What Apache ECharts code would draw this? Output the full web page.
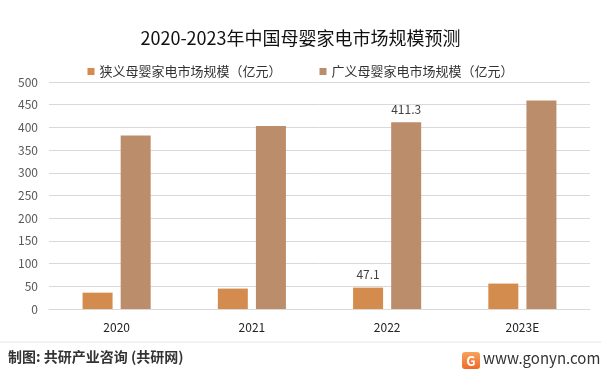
<!DOCTYPE html>
<html>
<head>
<meta charset="utf-8">
<script src="https://cdn.jsdelivr.net/npm/echarts@6/dist/echarts.min.js"></script>
<style>
html,body{margin:0;padding:0;background:#fff;}
#chart{width:601px;height:373px;}
</style>
</head>
<body>
<div id="chart"></div>
<script>
const categories = ['2020', '2021', '2022', '2023E'];
const narrowName = '狭义母婴家电市场规模（亿元）';
const broadName = '广义母婴家电市场规模（亿元）';
const narrowValues = [36, 45, 47.1, 56];
const broadValues = [382, 403, 411.3, 459];
const labeledIndex = 2;
const yTicks = { min: 0, max: 500, interval: 50 };

const FONT = '"Microsoft YaHei","Noto Sans CJK SC","Noto Sans",sans-serif';
const chart = echarts.init(document.getElementById('chart'), null, { renderer: 'canvas' });

function labelFor(idx) {
  return {
    show: true,
    position: 'top',
    distance: 7,
    color: '#404040',
    fontSize: 12,
    fontFamily: FONT,
    formatter: p => (p.dataIndex === idx ? String(p.value) : '')
  };
}

const option = {
  backgroundColor: '#ffffff',
  animation: false,
  title: {
    text: '2020-2023年中国母婴家电市场规模预测',
    left: 'center',
    top: 24,
    textStyle: { fontSize: 18, fontWeight: 'normal', color: '#111', fontFamily: FONT }
  },
  legend: {
    top: 60,
    left: 'center',
    itemWidth: 7,
    itemHeight: 7,
    itemGap: 38,
    icon: 'rect',
    textStyle: { fontSize: 13, color: '#333', fontFamily: FONT },
    data: [narrowName, broadName]
  },
  grid: { left: 49, right: 11, top: 82, bottom: 64, containLabel: false },
  xAxis: {
    type: 'category',
    data: categories,
    axisLine: { show: true, lineStyle: { color: '#d9d9d9' } },
    axisTick: { show: false },
    axisLabel: { color: '#222', fontSize: 12, margin: 12, fontFamily: FONT }
  },
  yAxis: {
    type: 'value',
    min: yTicks.min,
    max: yTicks.max,
    interval: yTicks.interval,
    axisLine: { show: false },
    axisTick: { show: false },
    splitLine: { lineStyle: { color: '#d9d9d9', width: 1 } },
    axisLabel: { color: '#595959', fontSize: 12, margin: 11, fontFamily: FONT }
  },
  series: [
    {
      name: narrowName,
      type: 'bar',
      data: narrowValues,
      barWidth: 30,
      barGap: '27%',
      itemStyle: { color: '#D48C4E' },
      label: labelFor(labeledIndex)
    },
    {
      name: broadName,
      type: 'bar',
      data: broadValues,
      barWidth: 30,
      itemStyle: { color: '#BB8D6B' },
      label: labelFor(labeledIndex)
    }
  ],
  graphic: [
    { type: 'line', shape: { x1: 0, y1: 342, x2: 601, y2: 342 }, style: { stroke: '#e6e6e6', lineWidth: 1 } },
    { type: 'text', left: 8, top: 350, style: { text: '制图: 共研产业咨询 (共研网)', fontSize: 14, fontWeight: 'bold', fill: '#333', fontFamily: FONT } },
    { type: 'rect', shape: { x: 462, y: 352, width: 18, height: 17, r: 3 }, style: { fill: new echarts.graphic.LinearGradient(0, 0, 0, 1, [{ offset: 0, color: '#F7A35C' }, { offset: 1, color: '#EE6A2C' }]) } },
    { type: 'text', x: 471, y: 361, style: { text: 'G', fontSize: 13, fontWeight: 'bold', fill: '#fff', align: 'center', verticalAlign: 'middle', fontFamily: FONT } },
    { type: 'text', left: 483, top: 351, style: { text: 'www.gonyn.com', fontSize: 15, fill: '#333', fontFamily: FONT } }
  ]
};
chart.setOption(option);
</script>
</body>
</html>
